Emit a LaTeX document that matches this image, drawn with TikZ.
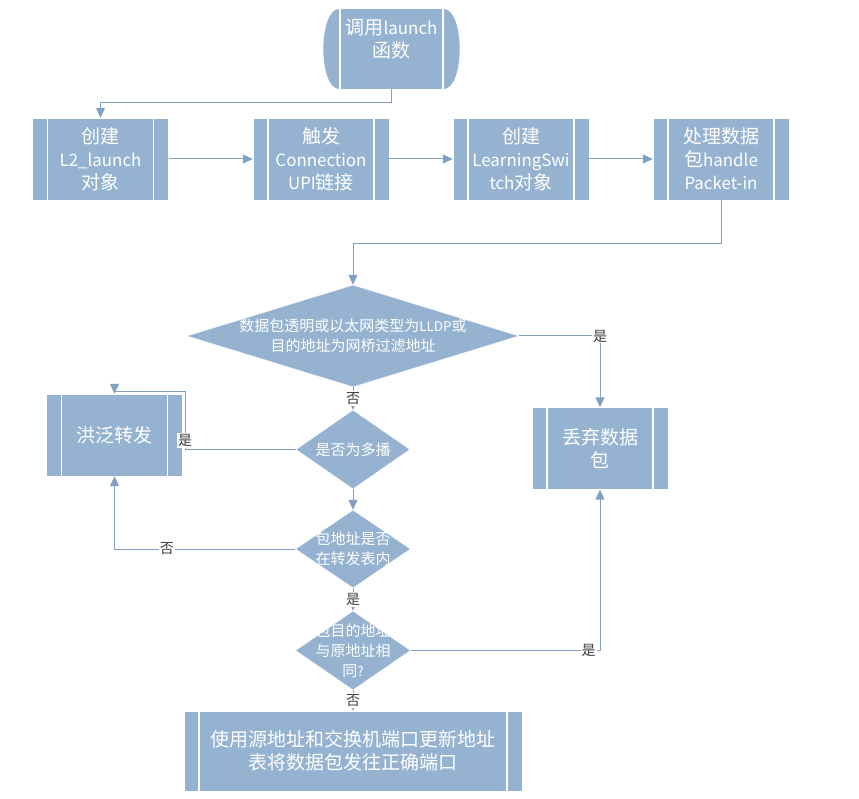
\documentclass[tikz,border=0pt]{standalone}
\usepackage{fontspec}
\setmainfont{Noto Sans CJK SC}
\newfontfamily\lat{Noto Sans CJK SC}[Scale=0.89]
\usetikzlibrary{arrows.meta,shapes.geometric}
\definecolor{flow}{RGB}{149,179,208}
\definecolor{wire}{RGB}{130,160,192}
\definecolor{lblgray}{RGB}{60,60,60}
\begin{document}
\begin{tikzpicture}[x=1pt,y=-1pt,
	every node/.style={font=\fontsize{19}{23}\selectfont, text=white, align=center},
	sidebars/.style={path picture={\draw[white, line width=1.5pt]
		([xshift=#1]path picture bounding box.north west) -- ([xshift=#1]path picture bounding box.south west)
		([xshift=-#1]path picture bounding box.north east) -- ([xshift=-#1]path picture bounding box.south east);}},
	proc/.style={rectangle, fill=flow, draw=white, minimum width=136pt, minimum height=82pt, inner sep=0pt, sidebars=15pt},
	startbox/.style={rectangle, fill=flow, minimum width=103pt, minimum height=80pt, inner sep=0pt},
	decision/.style={diamond, fill=flow, draw=white, inner sep=0pt},
	dtext/.style={font=\fontsize{15}{20}\selectfont, text=white, align=center},
	lbl/.style={fill=white, text=lblgray, font=\fontsize{14}{16}\selectfont, inner sep=1pt},
	flowarrow/.style={draw=wire, line width=1pt, -{Triangle[length=10pt,width=9pt]}}]
	\useasboundingbox (0,0) rectangle (859,799);
	\node[startbox, text depth=22pt] (start) at (391.5,49) {调用{\lat launch}\\函数};
	\fill[flow] (start.north west) .. controls +(-22,0) and +(-22,0) .. (start.south west)
		(start.north east) .. controls +(22,0) and +(22,0) .. (start.south east);
	\draw[white, line width=1.5pt] (start.north west) -- (start.south west) (start.north east) -- (start.south east);
	\foreach \n/\x/\t in {b1/100.5/{创建\\{\lat L2\_launch}\\对象}, b2/321/{触发\\{\lat Connection}\\{\lat UPI}链接}, b3/521/{创建\\{\lat LearningSwi}\\{\lat tch}对象}, b4/721/{处理数据\\包{\lat handle}\\{\lat Packet-in}}}
		\node[proc] (\n) at (\x,159) {\t};
	\node[decision, minimum width=332pt, minimum height=102pt, label={[dtext]center:{数据包透明或以太网类型为{\lat LLDP}或\\目的地址为网桥过滤地址}}] (d1) at (353,336) {};
	\node[decision, minimum width=114pt, minimum height=79pt, label={[dtext]center:{是否为多播}}] (d2) at (353,449.5) {};
	\node[decision, minimum width=115pt, minimum height=78pt, label={[dtext]center:{包地址是否\\在转发表内}}] (d3) at (353,549) {};
	\node[decision, minimum width=115pt, minimum height=79pt, label={[dtext]center:{包目的地址\\与原地址相\\同{\lat ?}}}] (d4) at (353,650.5) {};
	\node[proc] (flood) at (114.5,435) {洪泛转发};
	\node[proc] (drop) at (600,448.5) {丢弃数据\\包};
	\node[proc, minimum width=338pt, minimum height=80pt] (update) at (353,751) {使用源地址和交换机端口更新地址\\表将数据包发往正确端口};
	\coordinate (turn) at (185,391);
	\draw[flowarrow] (start.south) -- ++(0,13) -| (b1.north);
	\foreach \a/\b in {b1/b2,b2/b3,b3/b4} \draw[flowarrow] (\a) -- (\b);
	\draw[flowarrow] (b4.south) -- ++(0,43) -| (d1.north);
	\draw[flowarrow] (d1.east) -| node[lbl]{是} (drop.north);
	\draw[flowarrow] (d1.south) -- node[lbl]{否} (d2.north);
	\draw[flowarrow] (d2.west) -| node[lbl, pos=0.578]{是} (turn) -| (flood.north);
	\draw[flowarrow] (d2.south) -- (d3.north);
	\draw[flowarrow] (d3.west) -| node[lbl, pos=0.355]{否} (flood.south);
	\draw[flowarrow] (d3.south) -- node[lbl]{是} (d4.north);
	\draw[flowarrow] (d4.east) -| node[lbl, pos=0.47]{是} (drop.south);
	\draw[flowarrow] (d4.south) -- node[lbl]{否} (update.north);
\end{tikzpicture}
\end{document}
